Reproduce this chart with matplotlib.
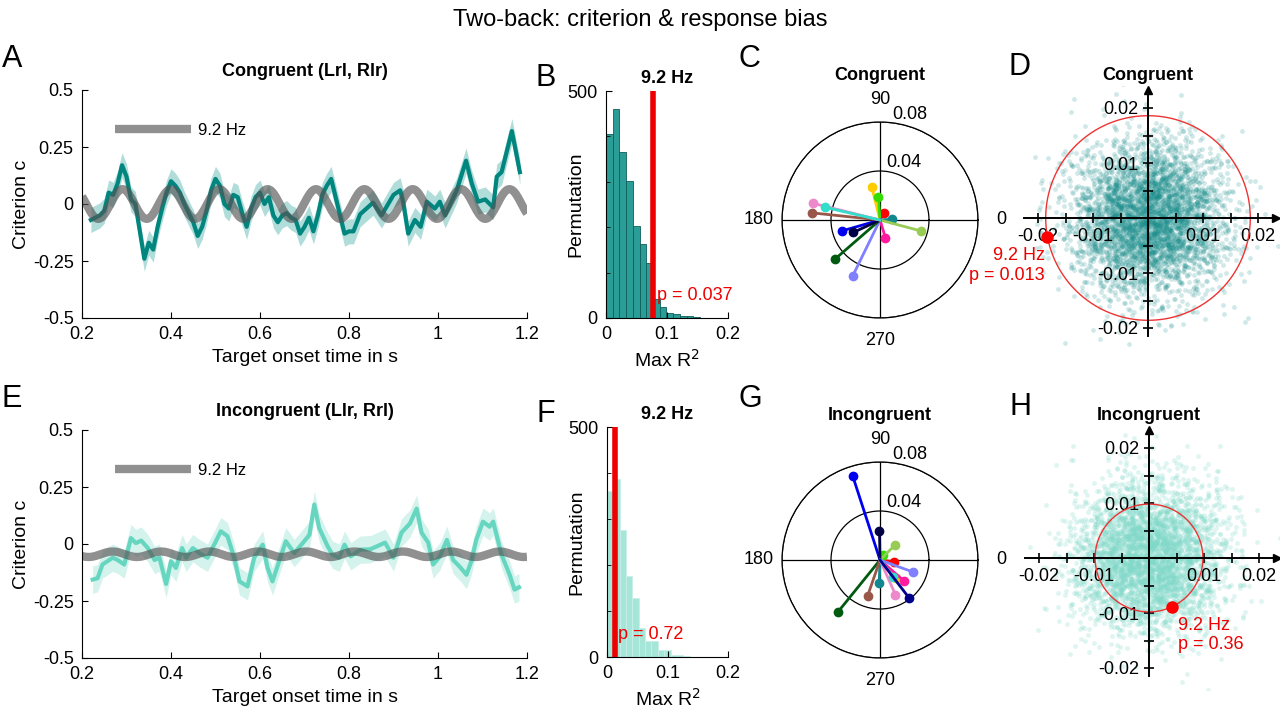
import numpy as np
import matplotlib
matplotlib.use("Agg")
import matplotlib.pyplot as plt

plt.rcParams['font.family'] = ['Liberation Sans', 'DejaVu Sans']

# ── data ──────────────────────────────────────────────────────
t_con = [0.22, 0.23, 0.24, 0.25, 0.26, 0.27, 0.28, 0.29, 0.30, 0.31, 0.32, 0.33, 0.34,
         0.35, 0.36, 0.37, 0.38, 0.39, 0.40, 0.41, 0.42, 0.43, 0.44, 0.45, 0.46, 0.47,
         0.48, 0.49, 0.50, 0.51, 0.52, 0.53, 0.54, 0.55, 0.56, 0.57, 0.58, 0.59, 0.60,
         0.61, 0.62, 0.63, 0.64, 0.65, 0.66, 0.67, 0.68, 0.69, 0.70, 0.71, 0.72, 0.73,
         0.74, 0.75, 0.76, 0.77, 0.78, 0.79, 0.80, 0.81, 0.825, 0.854, 0.873, 0.90,
         0.915, 0.922, 0.933, 0.948, 0.961, 0.975, 0.993, 1.004, 1.016, 1.042, 1.063,
         1.076, 1.09, 1.106, 1.124, 1.132, 1.143, 1.166, 1.184]
c_con = [-0.07, -0.06, -0.05, -0.03, 0.05, 0.04, 0.09, 0.17, 0.12, 0.02, 0.0, -0.12, -0.24,
         -0.17, -0.20, -0.10, -0.02, 0.05, 0.10, 0.08, 0.05, 0.0, -0.04, -0.08, -0.14, -0.10,
         -0.03, 0.06, 0.11, 0.08, 0.0, -0.02, 0.04, 0.03, -0.04, -0.10, -0.02, 0.03, 0.05,
         0.0, 0.03, -0.05, -0.08, -0.05, -0.04, -0.06, -0.07, -0.13, -0.10, -0.06, -0.12, -0.05,
         0.04, 0.08, 0.11, 0.03, -0.05, -0.13, -0.12, -0.12, -0.045, 0.006, -0.05, 0.04,
         0.06, 0.006, -0.13, -0.07, -0.10, 0.01, -0.02, 0.01, -0.05, 0.06, 0.19,
         0.09, 0.01, 0.02, -0.015, 0.12, 0.14, 0.32, 0.14]
sem_con = 0.055

t_inc = [0.224, 0.235, 0.246, 0.269, 0.28, 0.295, 0.31, 0.321, 0.333, 0.348, 0.363, 0.374,
         0.389, 0.40, 0.411, 0.425, 0.434, 0.449, 0.464, 0.482, 0.497, 0.512, 0.527, 0.542,
         0.554, 0.572, 0.587, 0.606, 0.617, 0.628, 0.643, 0.658, 0.677, 0.696, 0.711, 0.722,
         0.733, 0.752, 0.763, 0.778, 0.79, 0.804, 0.825, 0.848, 0.881, 0.90, 0.918, 0.937,
         0.952, 0.963, 0.978, 0.989, 1.004, 1.02, 1.034, 1.049, 1.064, 1.075, 1.086, 1.101,
         1.116, 1.124, 1.143, 1.161, 1.172, 1.182]
c_inc = [-0.156, -0.15, -0.09, -0.06, -0.07, -0.09, 0.026, 0.004, 0.015, -0.018, -0.07, -0.06,
         -0.175, -0.076, -0.105, -0.018, -0.06, -0.018, -0.04, -0.06, -0.003, 0.056, 0.034, -0.06,
         -0.164, -0.186, -0.06, -0.003, -0.105, -0.164, -0.076, 0.012, -0.04, 0.004, 0.04, 0.173,
         0.07, -0.01, -0.047, -0.06, -0.003, -0.054, -0.025, -0.023, 0.006, -0.06, 0.05, 0.09,
         0.155, 0.05, 0.006, -0.09, -0.055, 0.018, -0.07, -0.10, -0.135, -0.075, 0.018, 0.098,
         0.076, 0.098, -0.048, -0.135, -0.20, -0.19]
sem_inc = 0.06

# 9.2 Hz fits: amplitude, phase of peak (s), offset
FREQ = 9.2
fit_con = dict(amp=0.065, peak=0.291, offset=0.0)
fit_inc = dict(amp=0.012, peak=0.269, offset=-0.045)

# permutation histograms (counts per bin)
hist_con = [405, 461, 366, 302, 203, 162, 122, 41, 24, 12, 8, 4, 5, 2, 1]
bin_con = 0.011
obs_con, p_con = 0.077, "p = 0.037"
hist_inc = [360, 388, 276, 177, 128, 63, 35, 35, 16, 16, 5, 5, 2, 1, 1]
bin_inc = 0.0105
obs_inc, p_inc = 0.0125, "p = 0.72"

# subject vectors (angle deg, amplitude)
subj_colors = ['#ff0000', '#ffcc00', '#33dd00', '#11888f', '#99cc55', '#ff1aa0', '#8080ff',
               '#005a10', '#0000ee', '#000044', '#99574a', '#ee88cc', '#33ddcc']
ang_con = [61, 104, 94, 3, -15, -73, -116, -139, -164, -155, 174, 166, 167]
amp_con = [0.007, 0.028, 0.019, 0.010, 0.035, 0.015, 0.051, 0.049, 0.032, 0.024, 0.056, 0.056, 0.046]
ang_inc = [-7, -48, 60, -92, 45, -41, -20, -129, 108, 91, -109, -66, -51]
amp_inc = [0.0116, 0.020, 0.005, 0.019, 0.017, 0.026, 0.0285, 0.055, 0.072, 0.024, 0.031, 0.031, 0.0175]
# navy subject in G sits at (-52.5, 0.0387)
navy_inc = (-52.5, 0.0387)

# complex-plane summary: observed point and circle radius
obs_pt_con, rad_con, lab_con = (-0.0183, -0.0035), 0.0186, "9.2 Hz\np = 0.013"
obs_pt_inc, rad_inc, lab_inc = (0.0041, -0.0089), 0.0098, "9.2 Hz\np = 0.36"
N_PERM = 4000
cloud_sd = 0.0068

TEAL = '#00857f'
TEAL_BAND = '#7cc5c1'
MINT = '#66d6c0'
MINT_BAND = '#b8ebe1'

fig = plt.figure(figsize=(12.8, 7.2), dpi=100)
fig.text(0.5, 0.972, "Two-back: criterion & response bias", ha='center', va='center', fontsize=17)


def px(l, b, w, h):
    return [l / 1280, 1 - (b) / 720, w / 1280, h / 720]


def style(ax):
    for s in ['top', 'right']:
        ax.spines[s].set_visible(False)
    ax.tick_params(direction='in', labelsize=13, length=4, pad=6)


def time_panel(rect, t, c, sem, fit, col, band, title, letter):
    ax = fig.add_axes(rect)
    t = np.array(t); c = np.array(c)
    ax.fill_between(t, c - sem, c + sem, color=band, alpha=0.6, lw=0)
    ax.plot(t, c, color=col, lw=3)
    tt = np.linspace(0.2, 1.2, 400)
    ax.plot(tt, fit['offset'] + fit['amp'] * np.cos(2 * np.pi * FREQ * (tt - fit['peak'])),
            color='#555555', lw=6, alpha=0.65, label='9.2 Hz', solid_capstyle='butt')
    ax.set_xlim(0.2, 1.2); ax.set_ylim(-0.5, 0.5)
    ax.set_xticks([0.2, 0.4, 0.6, 0.8, 1.0, 1.2])
    ax.set_xticklabels(['0.2', '0.4', '0.6', '0.8', '1', '1.2'])
    ax.set_yticks([-0.5, -0.25, 0, 0.25, 0.5])
    ax.set_yticklabels(['-0.5', '-0.25', '0', '0.25', '0.5'])
    ax.set_xlabel("Target onset time in s", fontsize=14)
    ax.set_ylabel("Criterion c", fontsize=14, labelpad=2)
    ax.set_title(title, fontsize=13, fontweight='bold', pad=10)
    style(ax)
    ax.legend(loc='upper left', bbox_to_anchor=(0.04, 0.92), frameon=False, fontsize=12,
              handlelength=4.6, handletextpad=0.4)
    ax.text(-0.18, 1.1, letter, transform=ax.transAxes, fontsize=22)
    return ax


def hist_panel(rect, counts, bw, obs, ptxt, face, edge, letter):
    ax = fig.add_axes(rect)
    edges = np.arange(len(counts)) * bw
    ax.bar(edges, counts, width=bw, align='edge', color=face, edgecolor=edge, lw=0.6)
    ax.axvline(obs, color='#ee0000', lw=4)
    ax.text(obs + 0.006, 40, ptxt, color='#ee0000', fontsize=13)
    ax.set_xlim(0, 0.2); ax.set_ylim(0, 500)
    ax.set_xticks([0, 0.1, 0.2]); ax.set_xticklabels(['0', '0.1', '0.2'])
    ax.set_yticks([0, 500])
    ax.set_yticks([100, 200, 300, 400], minor=True)
    ax.tick_params(which='minor', direction='in', length=3)
    ax.set_xlabel("Max R$^2$", fontsize=14)
    ax.set_ylabel("Permutation", fontsize=14, labelpad=-12)
    ax.set_title("9.2 Hz", fontsize=13, fontweight='bold', pad=6)
    style(ax)
    ax.text(-0.58, 1.02, letter, transform=ax.transAxes, fontsize=22)


def polar_panel(rect, angs, amps, cols, title, letter):
    ax = fig.add_axes(rect, projection='polar')
    for a, r, col in zip(angs, amps, cols):
        th = np.deg2rad(a)
        ax.plot([0, th], [0, r], color=col, lw=2)
        ax.plot(th, r, 'o', color=col, ms=6)
    ax.set_rlim(0, 0.08)
    ax.set_rgrids([0.04, 0.08], labels=['0.04', '0.08'], angle=83, fontsize=13)
    ax.set_thetagrids([0, 90, 180, 270], labels=['0', '90', '180', '270'], fontsize=13)
    ax.tick_params(axis='x', pad=6)
    ax.grid(color='black', lw=0.9, ls='-')
    ax.spines['polar'].set_linewidth(0.9)
    ax.set_title(title, fontsize=13, fontweight='bold', pad=30)
    ax.text(-0.22, 1.28, letter, transform=ax.transAxes, fontsize=22)


def plane_panel(rect, pts, col, alpha, obs, rad, lab, title, letter, lab_right):
    ax = fig.add_axes(rect)
    ax.scatter(pts[:, 0], pts[:, 1], s=12, color=col, alpha=alpha, lw=0)
    th = np.linspace(0, 2 * np.pi, 300)
    ax.plot(rad * np.cos(th), rad * np.sin(th), color='#ee3333', lw=1)
    ax.plot(*obs, 'o', color='#ff0000', ms=8, zorder=5)
    if lab_right:
        ax.text(obs[0] + 0.0012, obs[1] - 0.0018, lab, color='#ee0000', fontsize=13, va='top')
    else:
        ax.text(obs[0] - 0.0005, obs[1] - 0.0018, lab, color='#ee0000', fontsize=13,
                va='top', ha='right')
    ax.set_xlim(-0.024, 0.024); ax.set_ylim(-0.024, 0.024)
    for s in ['top', 'right']:
        ax.spines[s].set_visible(False)
    ax.spines['left'].set_position('zero'); ax.spines['bottom'].set_position('zero')
    ax.spines['left'].set_bounds(-0.0215, 0.0225)
    ax.spines['bottom'].set_bounds(-0.0225, 0.0225)
    ax.spines['left'].set_linewidth(1.4); ax.spines['bottom'].set_linewidth(1.4)
    ax.plot(0.0232, 0, '>', color='black', ms=6, clip_on=False)
    ax.plot(0, 0.0232, '^', color='black', ms=6, clip_on=False)
    major = [-0.02, -0.01, 0.01, 0.02]
    ax.set_xticks(major); ax.set_yticks(major)
    ax.set_xticklabels(['-0.02', '-0.01', '0.01', '0.02'])
    ax.set_yticklabels(['-0.02', '-0.01', '0.01', '0.02'])
    ax.set_xticks([-0.015, -0.005, 0.005, 0.015], minor=True)
    ax.set_yticks([-0.015, -0.005, 0.005, 0.015], minor=True)
    ax.tick_params(which='both', direction='inout', length=7, width=1.2, labelsize=13)
    ax.set_title(title, fontsize=13, fontweight='bold', pad=4)
    ax.text(-0.03, 1.04, letter, transform=ax.transAxes, fontsize=22)


time_panel(px(82, 318, 445, 228), t_con, c_con, sem_con, fit_con, TEAL, TEAL_BAND,
           "Congruent (Lrl, Rlr)", "A")
time_panel(px(82, 658, 445, 228), t_inc, c_inc, sem_inc, fit_inc, MINT, MINT_BAND,
           "Incongruent (Llr, Rrl)", "E")

hist_panel(px(606, 318, 122, 227), hist_con, bin_con, obs_con, p_con, '#2a9d97', '#0d5e5a', "B")
hist_panel(px(607, 657, 121, 230), hist_inc, bin_inc, obs_inc, p_inc, '#a6e6d9', '#c8f0e8', "F")

polar_panel(px(782, 318, 196, 196), ang_con, amp_con, subj_colors, "Congruent", "C")
ang_g = list(ang_inc); amp_g = list(amp_inc)
polar_panel(px(782, 658, 196, 196), ang_g + [navy_inc[0]], amp_g + [navy_inc[1]],
            subj_colors + ['#000088'], "Incongruent", "G")

rng = np.random.default_rng(3)
cloud_con = rng.normal(0, cloud_sd, size=(N_PERM, 2))
cloud_inc = rng.normal(0, cloud_sd, size=(N_PERM, 2))
plane_panel(px(1016, 350, 264, 264), cloud_con, '#1a8e8c', 0.2, obs_pt_con, rad_con, lab_con,
            "Congruent", "D", False)
plane_panel(px(1017, 690, 264, 264), cloud_inc, '#7fd9c9', 0.25, obs_pt_inc, rad_inc, lab_inc,
            "Incongruent", "H", True)

fig.savefig("out.png", dpi=100)
